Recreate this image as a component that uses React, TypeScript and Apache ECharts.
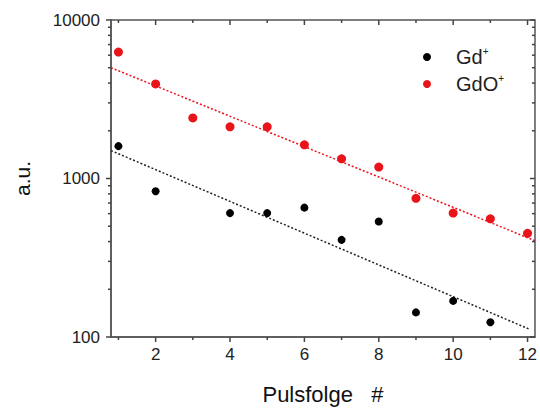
import React, { useEffect, useRef } from "react";
import * as echarts from "echarts";

// Pulse sequence numbers and measured intensities (a.u.)
const pulseGd = [1, 2, 4, 5, 6, 7, 8, 9, 10, 11];
const valuesGd = [1600, 830, 605, 605, 655, 410, 535, 143, 169, 124];
const pulseGdO = [1, 2, 3, 4, 5, 6, 7, 8, 9, 10, 11, 12];
const valuesGdO = [6280, 3950, 2410, 2120, 2120, 1630, 1330, 1180, 750, 605, 557, 451];

// Exponential fit lines (endpoints on the log axis)
const fitGd = [
  [0.8, 1500],
  [12.05, 112],
];
const fitGdO = [
  [0.8, 5000],
  [12.2, 405],
];

// Axis range, ticks and labels
const xRange = [0.8, 12.2];
const yRange = [100, 10000];
const xMajor = [2, 4, 6, 8, 10, 12];
const xMinor = [1, 3, 5, 7, 9, 11];
const yMajor = [100, 1000, 10000];
const yMinor = [
  200, 300, 400, 500, 600, 700, 800, 900,
  2000, 3000, 4000, 5000, 6000, 7000, 8000, 9000,
];

const FONT = "'Liberation Sans', Arial, sans-serif";
const AXIS_COLOR = "#555555";
const TICK_COLOR = "#444444";
const RED = "#e8141a";
const BLACK = "#000000";

// Tick marks: outward on bottom/left, inward on top/right
function xTickSeries(values: number[], len: number) {
  return {
    type: "custom",
    coordinateSystem: "cartesian2d",
    silent: true,
    clip: false,
    z: 5,
    data: values.map((v) => [v, yRange[0]]),
    renderItem: (_p: any, api: any) => {
      const v = api.value(0);
      const b = api.coord([v, yRange[0]]);
      const t = api.coord([v, yRange[1]]);
      const style = { stroke: TICK_COLOR, lineWidth: 1.5 };
      return {
        type: "group",
        children: [
          { type: "line", shape: { x1: b[0], y1: b[1], x2: b[0], y2: b[1] + len }, style },
          { type: "line", shape: { x1: t[0], y1: t[1], x2: t[0], y2: t[1] + len }, style },
        ],
      };
    },
  };
}

function yTickSeries(values: number[], len: number) {
  return {
    type: "custom",
    coordinateSystem: "cartesian2d",
    silent: true,
    clip: false,
    z: 5,
    data: values.map((v) => [xRange[0], v]),
    renderItem: (_p: any, api: any) => {
      const v = api.value(1);
      const l = api.coord([xRange[0], v]);
      const r = api.coord([xRange[1], v]);
      const style = { stroke: TICK_COLOR, lineWidth: 1.5 };
      return {
        type: "group",
        children: [
          { type: "line", shape: { x1: l[0] - len, y1: l[1], x2: l[0], y2: l[1] }, style },
          { type: "line", shape: { x1: r[0] - len, y1: r[1], x2: r[0], y2: r[1] }, style },
        ],
      };
    },
  };
}

export default function App() {
  const ref = useRef<HTMLDivElement>(null);

  useEffect(() => {
    if (!ref.current) return;
    const chart = echarts.init(ref.current, undefined, { renderer: "svg" });

    const toPairs = (xs: number[], ys: number[]) => xs.map((x, i) => [x, ys[i]]);

    chart.setOption({
      animation: false,
      backgroundColor: "#ffffff",
      grid: {
        left: 111,
        right: 1,
        top: 20,
        bottom: 75,
        containLabel: false,
        show: true,
        borderColor: AXIS_COLOR,
        borderWidth: 1.5,
        backgroundColor: "transparent",
      },
      xAxis: {
        type: "value",
        min: xRange[0],
        max: xRange[1],
        axisLine: { show: true, onZero: false, lineStyle: { color: AXIS_COLOR, width: 1.5 } },
        axisTick: { show: false },
        splitLine: { show: false },
        axisLabel: {
          customValues: xMajor,
          margin: 9,
          fontSize: 17,
          fontFamily: FONT,
          color: "#222",
        },
        name: "Pulsfolge   #",
        nameLocation: "middle",
        nameGap: 46,
        nameTextStyle: { fontSize: 22, fontFamily: FONT, color: "#111" },
      },
      yAxis: {
        type: "log",
        logBase: 10,
        min: yRange[0],
        max: yRange[1],
        axisLine: { show: true, onZero: false, lineStyle: { color: AXIS_COLOR, width: 1.5 } },
        axisTick: { show: false },
        splitLine: { show: false },
        axisLabel: {
          customValues: yMajor,
          margin: 11,
          fontSize: 17,
          fontFamily: FONT,
          color: "#222",
          formatter: (v: number) => String(Math.round(v)),
        },
        name: "a.u.",
        nameLocation: "middle",
        nameGap: 78,
        nameRotate: 90,
        nameTextStyle: { fontSize: 21, fontFamily: FONT, color: "#111" },
      },
      legend: {
        data: ["Gd+", "GdO+"],
        orient: "vertical",
        left: 418,
        top: 41,
        icon: "circle",
        itemWidth: 8,
        itemHeight: 8,
        itemGap: 5,
        textStyle: {
          fontFamily: FONT,
          color: "#222",
          rich: {
            b: { fontSize: 20, fontFamily: FONT, color: "#222", lineHeight: 22, padding: [0, 0, 0, 20] },
            s: { fontSize: 10, fontFamily: FONT, color: "#222", lineHeight: 22, padding: [0, 0, 12, 0] },
          },
        },
        formatter: (name: string) => `{b|${name.replace("+", "")}}{s|+}`,
      },
      series: [
        {
          name: "Gd+ fit",
          type: "line",
          data: fitGd,
          symbol: "none",
          lineStyle: { color: "#222", width: 1.5, type: [2, 2] },
          silent: true,
          z: 1,
        },
        {
          name: "GdO+ fit",
          type: "line",
          data: fitGdO,
          symbol: "none",
          lineStyle: { color: RED, width: 1.5, type: [2, 2] },
          silent: true,
          z: 1,
        },
        {
          name: "Gd+",
          type: "scatter",
          data: toPairs(pulseGd, valuesGd),
          symbol: "circle",
          symbolSize: 8,
          itemStyle: { color: BLACK, opacity: 1 },
          z: 3,
        },
        {
          name: "GdO+",
          type: "scatter",
          data: toPairs(pulseGdO, valuesGdO),
          symbol: "circle",
          symbolSize: 9,
          itemStyle: { color: RED, opacity: 1 },
          z: 3,
        },
        xTickSeries(xMajor, 5),
        xTickSeries(xMinor, 3),
        yTickSeries(yMajor, 5),
        yTickSeries(yMinor, 3),
      ],
    });

    return () => chart.dispose();
  }, []);

  return <div ref={ref} style={{ width: 540, height: 412, position: "absolute", left: 0, top: 0 }} />;
}
